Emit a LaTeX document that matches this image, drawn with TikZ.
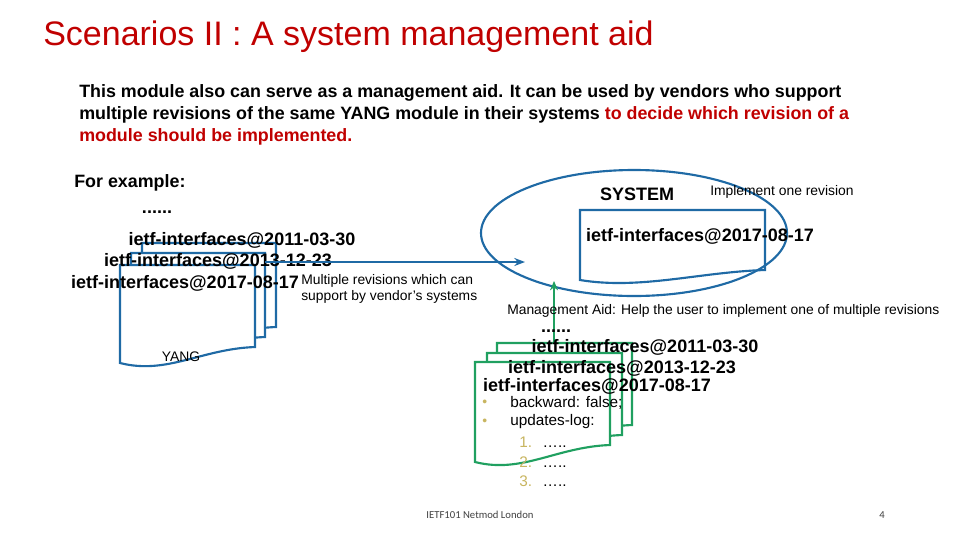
\documentclass[tikz,border=0pt]{standalone}
\usepackage{fontspec}
\setmainfont{Liberation Sans}
\newfontfamily\footfont{Carlito}
\usetikzlibrary{arrows.meta}
\definecolor{bl}{HTML}{1F6AA5}
\definecolor{gr}{HTML}{20A060}
\definecolor{tred}{HTML}{C00000}
\definecolor{ylw}{HTML}{C8B560}
\newcommand\docshp[6]{%
 \draw[#1,line width=1.6pt,fill=white] (#2,#4) -- (#3,#4) -- (#3,#5)
  .. controls ({#2+0.6*(#3-#2)},{#5+2}) and ({#2+0.35*(#3-#2)},{#6+12}) .. (#2,#6) -- cycle;}
\begin{document}
\begin{tikzpicture}[x=0.75pt,y=-0.75pt,
  bt/.style={font=\bfseries\fontsize{13.5}{15}\selectfont,inner sep=0},
  st/.style={font=\fontsize{10.4}{12.5}\selectfont,inner sep=0,anchor=west}]
\useasboundingbox (0,0) rectangle (960,540);
\node[anchor=west,inner sep=0,text=tred,font=\fontsize{25.5}{29}\selectfont] (title) at (43,37) {Scenarios II : A system management aid};
\node[anchor=north west,inner sep=0,align=left,font=\bfseries\fontsize{13.4}{16.5}\selectfont] (para) at (79,84)
 {This module also can serve as a management aid. It can be used by vendors who support\\
  multiple revisions of the same YANG module in their systems \textcolor{tred}{to decide which revision of a}\\
  \textcolor{tred}{module should be implemented.}};
\node[bt,anchor=west,font=\bfseries\fontsize{13.4}{15}\selectfont] (fe) at (74,183) {For example:};
\draw[bl,line width=1.6pt] (634,233) ellipse [x radius=153,y radius=63];
\draw[bl,line width=1.6pt] (580,210) -- (765,210) -- (765,270)
  .. controls (700,272) and (640,290) .. (580,280) -- cycle;
\node[bt] (sys) at (637,194) {SYSTEM};
\node[st] (impl) at (710,192) {Implement one revision};
\node[bt] (sysrev) at (700,236) {ietf-interfaces@2017-08-17};
\docshp{bl}{142}{276}{243}{327}{343}
\docshp{bl}{131}{265}{253}{337}{353}
\docshp{bl}{120}{255}{265}{347}{363}
\node[bt] (ld) at (157,212) {......};
\node[bt] (l1) at (242,240) {ietf-interfaces@2011-03-30};
\node[bt] (l2) at (218,261) {ietf-interfaces@2013-12-23};
\node[bt] (l3) at (185,283) {ietf-interfaces@2017-08-17};
\node[st,align=left,anchor=north west] (multi) at (301,274) {Multiple revisions which can\\support by vendor's systems};
\node[st,anchor=center] (yang) at (181,357) {YANG};
\coordinate (arrS) at (265,262);
\coordinate (arrE) at (525,262);
\draw[bl,line width=1.6pt,-{Stealth[length=8pt,width=6pt]}] (arrS) -- (arrE);
\docshp{gr}{497}{632}{343}{425}{441}
\docshp{gr}{487}{622}{353}{435}{451}
\docshp{gr}{475}{610}{362}{445}{462}
\coordinate (gS) at (554,343);
\coordinate (gE) at (554,281);
\draw[gr,line width=1.6pt,-{Stealth[length=7pt,width=6pt]}] (gS) -- (gE);
\node[st] (mgmt) at (507,311) {Management Aid: Help the user to implement one of multiple revisions};
\node[bt] (gd) at (556,331) {......};
\node[bt] (g1) at (645,347) {ietf-interfaces@2011-03-30};
\node[bt] (g2) at (622,368) {ietf-interfaces@2013-12-23};
\node[bt] (g3) at (597,386) {ietf-interfaces@2017-08-17};
\node[st,text=ylw] (b1) at (482,403) {\textbullet};
\node[st,text=ylw] (b2) at (482,422) {\textbullet};
\node[st,font=\fontsize{11.5}{13}\selectfont] (t1) at (510,403) {backward: false;};
\node[st,font=\fontsize{11.5}{13}\selectfont] (t2) at (510,422) {updates-log:};
\node[st,font=\fontsize{11.5}{13}\selectfont] (n1) at (519,442) {\textcolor{ylw}{1.}\hspace{8pt}…..};
\node[st,font=\fontsize{11.5}{13}\selectfont] (n2) at (519,462) {\textcolor{ylw}{2.}\hspace{8pt}…..};
\node[st,font=\fontsize{11.5}{13}\selectfont] (n3) at (519,481) {\textcolor{ylw}{3.}\hspace{8pt}…..};
\node[inner sep=0,font=\footfont\fontsize{8}{10}\selectfont,text=black!75] (foot) at (480,515) {IETF101 Netmod London};
\node[inner sep=0,font=\footfont\fontsize{8}{10}\selectfont,text=black!75] (pg) at (882,515) {4};
\end{tikzpicture}
\end{document}
